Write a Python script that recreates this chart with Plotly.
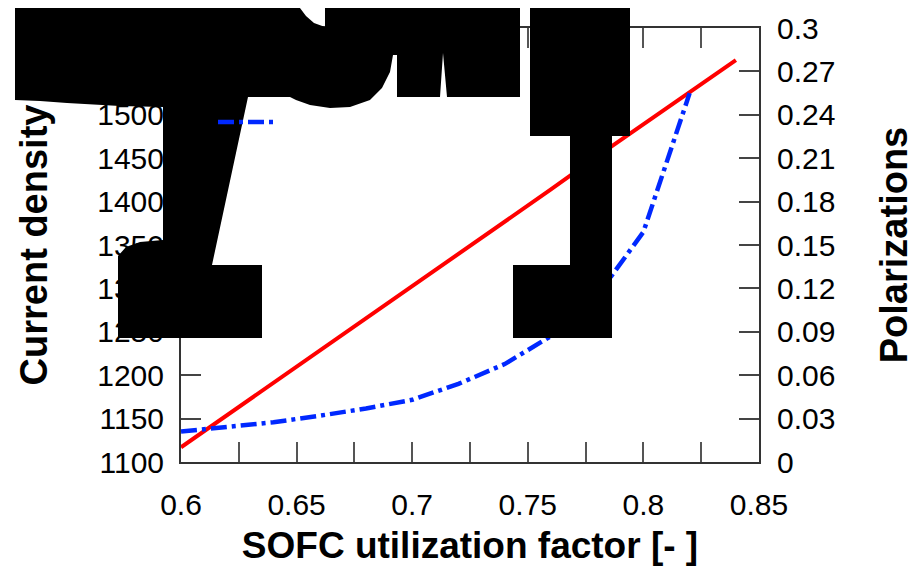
import plotly.graph_objects as go

# ---- data ----
utilization = [0.60, 0.62, 0.64, 0.66, 0.68, 0.70, 0.72, 0.74, 0.76, 0.78, 0.80, 0.82, 0.84]
current_density = [1117, 1154, 1191, 1228, 1266, 1303, 1340, 1377, 1414, 1452, 1489, 1526, 1563]
util_pol = [0.60, 0.62, 0.64, 0.66, 0.68, 0.70, 0.72, 0.74, 0.76, 0.78, 0.80, 0.82]
polarization = [0.021, 0.024, 0.0275, 0.032, 0.037, 0.043, 0.054, 0.0677, 0.087, 0.115, 0.159, 0.255]

x_ticks = [0.6, 0.65, 0.7, 0.75, 0.8, 0.85]
x_ticktext = ["0.6", "0.65", "0.7", "0.75", "0.8", "0.85"]
y1_ticks = [1100, 1150, 1200, 1250, 1300, 1350, 1400, 1450, 1500, 1550, 1600]
y1_ticktext = ["1100", "1150", "1200", "1250", "1300", "1350", "1400", "1450", "1500", "1550", "1600"]
y2_ticks = [0, 0.03, 0.06, 0.09, 0.12, 0.15, 0.18, 0.21, 0.24, 0.27, 0.3]
y2_ticktext = ["0", "0.03", "0.06", "0.09", "0.12", "0.15", "0.18", "0.21", "0.24", "0.27", "0.3"]

x_title = "SOFC utilization factor [- ]"
y1_title = "Current density"
y2_title = "Polarizations"

FONT = "Liberation Sans, Arial, sans-serif"

# ---- layout geometry (pixels) ----
W, H = 915, 572
L, R, T, B = 181, 759, 28, 462

def px(x):
    return (x - L) / (R - L)

def py(y):
    return (B - y) / (B - T)

def path(pts):
    return "M" + " L".join(f"{px(a):.5f},{py(b):.5f}" for a, b in pts) + " Z"

blob1 = [(15, 8), (300, 8), (306, 16), (314, 23), (325, 27), (325, 8), (520, 8), (520, 97),
         (447, 97), (443, 53), (440, 97), (397, 97), (397, 55), (393, 55), (390, 72), (382, 88),
         (370, 100), (350, 107), (330, 108), (310, 105), (296, 100), (290, 97), (248, 97),
         (212, 265), (262, 265), (262, 338), (118, 338), (118, 256), (126, 247), (140, 242),
         (163, 240), (163, 107), (120, 106), (67, 103), (40, 101), (15, 100)]
blob2 = [(530, 8), (630, 8), (630, 136), (612, 136), (612, 338), (513, 338), (513, 265),
         (570, 265), (570, 136), (530, 136)]

fig = go.Figure()
fig.add_trace(go.Scatter(x=utilization, y=current_density, mode="lines",
                         line=dict(color="#ff0000", width=4), name="Current density",
                         showlegend=False, yaxis="y"))
fig.add_trace(go.Scatter(x=util_pol, y=polarization, mode="lines",
                         line=dict(color="#0028ff", width=4.5, dash="16px,5px,4px,5px"),
                         name="", showlegend=True, yaxis="y2"))

tickfont = dict(family=FONT, size=30, color="black")
xtitlefont = dict(family=FONT, size=37, color="black", weight="bold")
ytitlefont = dict(family=FONT, size=38, color="black", weight="bold")

fig.update_layout(
    width=W, height=H,
    margin=dict(l=L, r=W - R, t=T, b=H - B, autoexpand=False),
    paper_bgcolor="white", plot_bgcolor="white",
    xaxis=dict(range=[0.6, 0.85], tickvals=x_ticks, ticktext=x_ticktext,
               ticks="inside", ticklen=20, tickwidth=1.5, tickcolor="#555",
               minor=dict(dtick=0.025, tick0=0.6, ticks="inside", ticklen=20, tickwidth=1.5, tickcolor="#555"),
               showline=True, linecolor="#333", linewidth=2, mirror="ticks",
               showgrid=False, zeroline=False, tickfont=tickfont, ticklabelstandoff=15,
               title=dict(text=x_title, font=xtitlefont, standoff=12)),
    yaxis=dict(range=[1100, 1600], tickvals=y1_ticks, ticktext=y1_ticktext,
               ticks="inside", ticklen=20, tickwidth=1.5, tickcolor="#444",
               showline=True, linecolor="#333", linewidth=2,
               showgrid=False, zeroline=False, tickfont=tickfont, ticklabelstandoff=9,
               title=dict(text=y1_title, font=ytitlefont, standoff=38)),
    yaxis2=dict(range=[0, 0.3], tickvals=y2_ticks, ticktext=y2_ticktext,
                overlaying="y", side="right",
                ticks="inside", ticklen=20, tickwidth=1.5, tickcolor="#444",
                showline=True, linecolor="#333", linewidth=2,
                showgrid=False, zeroline=False, tickfont=tickfont, ticklabelstandoff=10,
                title=dict(text=y2_title, font=ytitlefont, standoff=47)),
    legend=dict(x=px(213), y=py(96), xanchor="left", yanchor="top", itemwidth=60,
                bgcolor="rgba(0,0,0,0)", borderwidth=0, font=dict(family=FONT, size=30)),
    shapes=[dict(type="path", xref="paper", yref="paper", path=path(blob1),
                 fillcolor="black", line=dict(width=0), layer="above"),
            dict(type="path", xref="paper", yref="paper", path=path(blob2),
                 fillcolor="black", line=dict(width=0), layer="above")],
)

fig.write_html("out.html")
